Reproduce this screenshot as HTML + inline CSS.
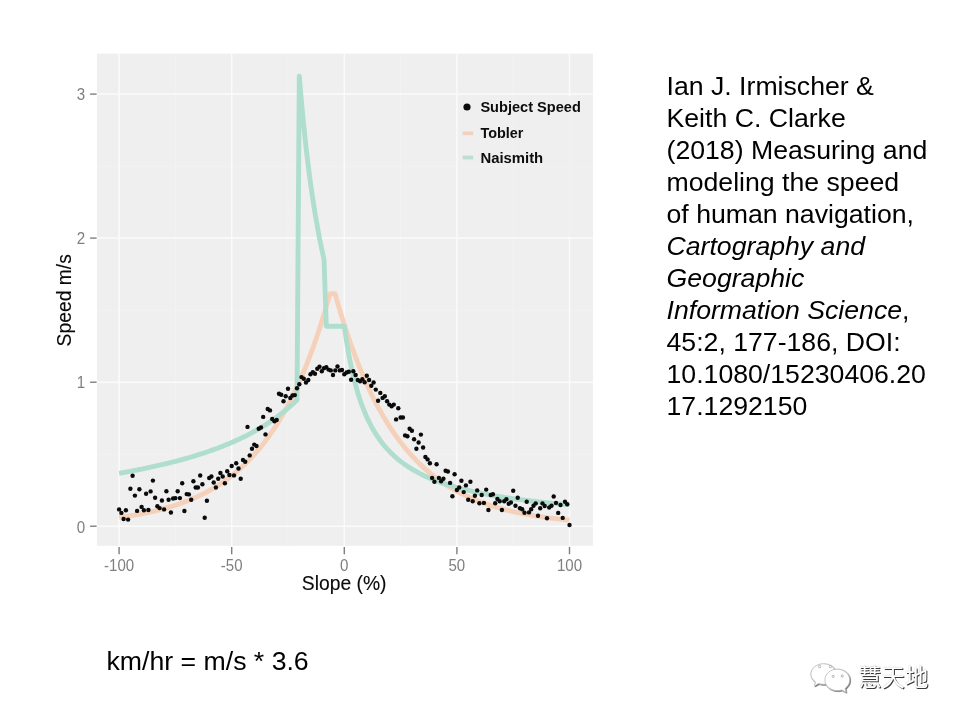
<!DOCTYPE html>
<html lang="en">
<head>
<meta charset="utf-8">
<title>Speed vs slope</title>
<style>
html,body{margin:0;padding:0;background:#fff;}
body{width:960px;height:720px;position:relative;overflow:hidden;font-family:"Liberation Sans",sans-serif;color:#000;}
svg.chart{position:absolute;left:0;top:0;}
svg text{font-family:"Liberation Sans",sans-serif;}
.atitle{fill:#0a0a0a;stroke:#0a0a0a;stroke-width:0.12px;}
.cite{position:absolute;left:666.5px;top:69.6px;width:290px;font-size:26.67px;line-height:32px;white-space:nowrap;}
.cite i{font-style:italic;}
.conv{position:absolute;left:106.5px;top:644.6px;font-size:26.67px;line-height:32px;white-space:nowrap;}
.wm{position:absolute;left:800px;top:650px;}
.wmtext{position:absolute;left:858.3px;top:660.6px;font-family:"Liberation Sans","Noto Sans CJK SC",sans-serif;font-size:23.3px;line-height:34px;color:#fff;text-shadow:1px 1px 0.6px #3a3a3a,0 0 1px #aaa;white-space:nowrap;}
</style>
</head>
<body>
<svg class="chart" width="960" height="720" viewBox="0 0 960 720">
<rect x="96.9" y="53.6" width="496.0" height="492.2" fill="#efefef"/>
<g stroke="#f2f2f2" stroke-width="1">
<line x1="96.9" x2="592.9" y1="454.2" y2="454.2"/>
<line x1="96.9" x2="592.9" y1="310.2" y2="310.2"/>
<line x1="96.9" x2="592.9" y1="166.1" y2="166.1"/>
<line y1="53.6" y2="545.8" x1="175.4" x2="175.4"/>
<line y1="53.6" y2="545.8" x1="288.0" x2="288.0"/>
<line y1="53.6" y2="545.8" x1="400.6" x2="400.6"/>
<line y1="53.6" y2="545.8" x1="513.2" x2="513.2"/>
</g>
<g stroke="#fbfbfb" stroke-width="1.5">
<line x1="96.9" x2="592.9" y1="526.2" y2="526.2"/>
<line x1="96.9" x2="592.9" y1="382.2" y2="382.2"/>
<line x1="96.9" x2="592.9" y1="238.1" y2="238.1"/>
<line x1="96.9" x2="592.9" y1="94.1" y2="94.1"/>
<line y1="53.6" y2="545.8" x1="119.1" x2="119.1"/>
<line y1="53.6" y2="545.8" x1="231.7" x2="231.7"/>
<line y1="53.6" y2="545.8" x1="344.3" x2="344.3"/>
<line y1="53.6" y2="545.8" x1="456.9" x2="456.9"/>
<line y1="53.6" y2="545.8" x1="569.5" x2="569.5"/>
</g>
<g stroke="#7f7f7f" stroke-width="1.4">
<line x1="90.1" x2="96.6" y1="526.2" y2="526.2"/>
<line x1="90.1" x2="96.6" y1="382.2" y2="382.2"/>
<line x1="90.1" x2="96.6" y1="238.1" y2="238.1"/>
<line x1="90.1" x2="96.6" y1="94.1" y2="94.1"/>
<line y1="547.0" y2="554.2" x1="119.1" x2="119.1"/>
<line y1="547.0" y2="554.2" x1="231.7" x2="231.7"/>
<line y1="547.0" y2="554.2" x1="344.3" x2="344.3"/>
<line y1="547.0" y2="554.2" x1="456.9" x2="456.9"/>
<line y1="547.0" y2="554.2" x1="569.5" x2="569.5"/>
</g>
<g class="tick" fill="#7f7f7f" font-size="16.0">
<text x="76.7" y="532.5" textLength="8.4" lengthAdjust="spacingAndGlyphs">0</text>
<text x="76.7" y="388.4" textLength="8.4" lengthAdjust="spacingAndGlyphs">1</text>
<text x="76.7" y="244.3" textLength="8.4" lengthAdjust="spacingAndGlyphs">2</text>
<text x="76.7" y="100.3" textLength="8.4" lengthAdjust="spacingAndGlyphs">3</text>
<text x="104.1" y="571.2" textLength="30.1" lengthAdjust="spacingAndGlyphs">-100</text>
<text x="220.8" y="571.2" textLength="21.7" lengthAdjust="spacingAndGlyphs">-50</text>
<text x="340.1" y="571.2" textLength="8.4" lengthAdjust="spacingAndGlyphs">0</text>
<text x="448.5" y="571.2" textLength="16.7" lengthAdjust="spacingAndGlyphs">50</text>
<text x="557.0" y="571.2" textLength="25.1" lengthAdjust="spacingAndGlyphs">100</text>
</g>
<path d="M119.1,517.5 L119.7,517.4 L120.2,517.3 L120.8,517.2 L121.4,517.2 L121.9,517.1 L122.5,517.0 L123.0,516.9 L123.6,516.8 L124.2,516.8 L124.7,516.7 L125.3,516.6 L125.9,516.5 L126.4,516.4 L127.0,516.3 L127.5,516.2 L128.1,516.2 L128.7,516.1 L129.2,516.0 L129.8,515.9 L130.4,515.8 L130.9,515.7 L131.5,515.6 L132.0,515.5 L132.6,515.4 L133.2,515.3 L133.7,515.2 L134.3,515.1 L134.9,515.0 L135.4,514.9 L136.0,514.8 L136.6,514.7 L137.1,514.6 L137.7,514.5 L138.2,514.4 L138.8,514.3 L139.4,514.2 L139.9,514.1 L140.5,514.0 L141.1,513.9 L141.6,513.8 L142.2,513.7 L142.7,513.6 L143.3,513.5 L143.9,513.4 L144.4,513.2 L145.0,513.1 L145.6,513.0 L146.1,512.9 L146.7,512.8 L147.3,512.7 L147.8,512.5 L148.4,512.4 L148.9,512.3 L149.5,512.2 L150.1,512.1 L150.6,511.9 L151.2,511.8 L151.8,511.7 L152.3,511.5 L152.9,511.4 L153.4,511.3 L154.0,511.2 L154.6,511.0 L155.1,510.9 L155.7,510.8 L156.3,510.6 L156.8,510.5 L157.4,510.3 L157.9,510.2 L158.5,510.1 L159.1,509.9 L159.6,509.8 L160.2,509.6 L160.8,509.5 L161.3,509.3 L161.9,509.2 L162.5,509.0 L163.0,508.9 L163.6,508.7 L164.1,508.6 L164.7,508.4 L165.3,508.3 L165.8,508.1 L166.4,508.0 L167.0,507.8 L167.5,507.6 L168.1,507.5 L168.6,507.3 L169.2,507.1 L169.8,507.0 L170.3,506.8 L170.9,506.6 L171.5,506.5 L172.0,506.3 L172.6,506.1 L173.1,505.9 L173.7,505.7 L174.3,505.6 L174.8,505.4 L175.4,505.2 L176.0,505.0 L176.5,504.8 L177.1,504.6 L177.7,504.5 L178.2,504.3 L178.8,504.1 L179.3,503.9 L179.9,503.7 L180.5,503.5 L181.0,503.3 L181.6,503.1 L182.2,502.9 L182.7,502.7 L183.3,502.5 L183.8,502.3 L184.4,502.0 L185.0,501.8 L185.5,501.6 L186.1,501.4 L186.7,501.2 L187.2,501.0 L187.8,500.7 L188.3,500.5 L188.9,500.3 L189.5,500.1 L190.0,499.8 L190.6,499.6 L191.2,499.4 L191.7,499.1 L192.3,498.9 L192.9,498.6 L193.4,498.4 L194.0,498.2 L194.5,497.9 L195.1,497.7 L195.7,497.4 L196.2,497.2 L196.8,496.9 L197.4,496.6 L197.9,496.4 L198.5,496.1 L199.0,495.9 L199.6,495.6 L200.2,495.3 L200.7,495.0 L201.3,494.8 L201.9,494.5 L202.4,494.2 L203.0,493.9 L203.6,493.7 L204.1,493.4 L204.7,493.1 L205.2,492.8 L205.8,492.5 L206.4,492.2 L206.9,491.9 L207.5,491.6 L208.1,491.3 L208.6,491.0 L209.2,490.7 L209.7,490.4 L210.3,490.0 L210.9,489.7 L211.4,489.4 L212.0,489.1 L212.6,488.8 L213.1,488.4 L213.7,488.1 L214.2,487.8 L214.8,487.4 L215.4,487.1 L215.9,486.7 L216.5,486.4 L217.1,486.0 L217.6,485.7 L218.2,485.3 L218.8,485.0 L219.3,484.6 L219.9,484.2 L220.4,483.9 L221.0,483.5 L221.6,483.1 L222.1,482.7 L222.7,482.4 L223.3,482.0 L223.8,481.6 L224.4,481.2 L224.9,480.8 L225.5,480.4 L226.1,480.0 L226.6,479.6 L227.2,479.2 L227.8,478.8 L228.3,478.3 L228.9,477.9 L229.4,477.5 L230.0,477.1 L230.6,476.6 L231.1,476.2 L231.7,475.8 L232.3,475.3 L232.8,474.9 L233.4,474.4 L234.0,474.0 L234.5,473.5 L235.1,473.0 L235.6,472.6 L236.2,472.1 L236.8,471.6 L237.3,471.1 L237.9,470.7 L238.5,470.2 L239.0,469.7 L239.6,469.2 L240.1,468.7 L240.7,468.2 L241.3,467.7 L241.8,467.1 L242.4,466.6 L243.0,466.1 L243.5,465.6 L244.1,465.0 L244.6,464.5 L245.2,464.0 L245.8,463.4 L246.3,462.9 L246.9,462.3 L247.5,461.7 L248.0,461.2 L248.6,460.6 L249.2,460.0 L249.7,459.4 L250.3,458.9 L250.8,458.3 L251.4,457.7 L252.0,457.1 L252.5,456.5 L253.1,455.8 L253.7,455.2 L254.2,454.6 L254.8,454.0 L255.3,453.3 L255.9,452.7 L256.5,452.1 L257.0,451.4 L257.6,450.7 L258.2,450.1 L258.7,449.4 L259.3,448.7 L259.9,448.1 L260.4,447.4 L261.0,446.7 L261.5,446.0 L262.1,445.3 L262.7,444.6 L263.2,443.8 L263.8,443.1 L264.4,442.4 L264.9,441.6 L265.5,440.9 L266.0,440.2 L266.6,439.4 L267.2,438.6 L267.7,437.9 L268.3,437.1 L268.9,436.3 L269.4,435.5 L270.0,434.7 L270.5,433.9 L271.1,433.1 L271.7,432.3 L272.2,431.5 L272.8,430.6 L273.4,429.8 L273.9,428.9 L274.5,428.1 L275.1,427.2 L275.6,426.3 L276.2,425.5 L276.7,424.6 L277.3,423.7 L277.9,422.8 L278.4,421.9 L279.0,421.0 L279.6,420.0 L280.1,419.1 L280.7,418.2 L281.2,417.2 L281.8,416.2 L282.4,415.3 L282.9,414.3 L283.5,413.3 L284.1,412.3 L284.6,411.3 L285.2,410.3 L285.7,409.3 L286.3,408.3 L286.9,407.2 L287.4,406.2 L288.0,405.1 L288.6,404.1 L289.1,403.0 L289.7,401.9 L290.3,400.8 L290.8,399.7 L291.4,398.6 L291.9,397.5 L292.5,396.4 L293.1,395.2 L293.6,394.1 L294.2,392.9 L294.8,391.7 L295.3,390.5 L295.9,389.4 L296.4,388.1 L297.0,386.9 L297.6,385.7 L298.1,384.5 L298.7,383.2 L299.3,382.0 L299.8,380.7 L300.4,379.4 L300.9,378.1 L301.5,376.8 L302.1,375.5 L302.6,374.2 L303.2,372.9 L303.8,371.5 L304.3,370.2 L304.9,368.8 L305.5,367.4 L306.0,366.0 L306.6,364.6 L307.1,363.2 L307.7,361.7 L308.3,360.3 L308.8,358.8 L309.4,357.4 L310.0,355.9 L310.5,354.4 L311.1,352.9 L311.6,351.3 L312.2,349.8 L312.8,348.3 L313.3,346.7 L313.9,345.1 L314.5,343.5 L315.0,341.9 L315.6,340.3 L316.2,338.7 L316.7,337.0 L317.3,335.4 L317.8,333.7 L318.4,332.0 L319.0,330.3 L319.5,328.6 L320.1,326.8 L320.7,325.1 L321.2,323.3 L321.8,321.5 L322.3,319.7 L322.9,317.9 L323.5,316.1 L324.0,314.2 L324.6,312.4 L325.2,310.5 L325.7,308.6 L326.3,306.7 L326.8,304.7 L327.4,302.8 L328.0,300.8 L328.5,298.8 L329.1,296.8 L329.7,294.8 L330.2,293.6 L330.8,293.6 L331.4,293.6 L331.9,293.6 L332.5,293.6 L333.0,293.6 L333.6,293.6 L334.2,293.6 L334.7,293.6 L335.3,294.4 L335.9,296.4 L336.4,298.4 L337.0,300.4 L337.5,302.4 L338.1,304.3 L338.7,306.3 L339.2,308.2 L339.8,310.1 L340.4,312.0 L340.9,313.8 L341.5,315.7 L342.0,317.5 L342.6,319.3 L343.2,321.2 L343.7,322.9 L344.3,324.7 L344.9,326.5 L345.4,328.2 L346.0,329.9 L346.6,331.6 L347.1,333.3 L347.7,335.0 L348.2,336.7 L348.8,338.3 L349.4,340.0 L349.9,341.6 L350.5,343.2 L351.1,344.8 L351.6,346.4 L352.2,347.9 L352.7,349.5 L353.3,351.0 L353.9,352.6 L354.4,354.1 L355.0,355.6 L355.6,357.1 L356.1,358.5 L356.7,360.0 L357.2,361.4 L357.8,362.9 L358.4,364.3 L358.9,365.7 L359.5,367.1 L360.1,368.5 L360.6,369.9 L361.2,371.2 L361.8,372.6 L362.3,373.9 L362.9,375.3 L363.4,376.6 L364.0,377.9 L364.6,379.2 L365.1,380.4 L365.7,381.7 L366.3,383.0 L366.8,384.2 L367.4,385.5 L367.9,386.7 L368.5,387.9 L369.1,389.1 L369.6,390.3 L370.2,391.5 L370.8,392.7 L371.3,393.8 L371.9,395.0 L372.4,396.1 L373.0,397.3 L373.6,398.4 L374.1,399.5 L374.7,400.6 L375.3,401.7 L375.8,402.8 L376.4,403.9 L377.0,404.9 L377.5,406.0 L378.1,407.0 L378.6,408.1 L379.2,409.1 L379.8,410.1 L380.3,411.1 L380.9,412.1 L381.5,413.1 L382.0,414.1 L382.6,415.1 L383.1,416.1 L383.7,417.0 L384.3,418.0 L384.8,418.9 L385.4,419.8 L386.0,420.8 L386.5,421.7 L387.1,422.6 L387.7,423.5 L388.2,424.4 L388.8,425.3 L389.3,426.2 L389.9,427.0 L390.5,427.9 L391.0,428.8 L391.6,429.6 L392.2,430.5 L392.7,431.3 L393.3,432.1 L393.8,432.9 L394.4,433.7 L395.0,434.6 L395.5,435.4 L396.1,436.1 L396.7,436.9 L397.2,437.7 L397.8,438.5 L398.3,439.2 L398.9,440.0 L399.5,440.8 L400.0,441.5 L400.6,442.2 L401.2,443.0 L401.7,443.7 L402.3,444.4 L402.9,445.1 L403.4,445.8 L404.0,446.5 L404.5,447.2 L405.1,447.9 L405.7,448.6 L406.2,449.3 L406.8,449.9 L407.4,450.6 L407.9,451.3 L408.5,451.9 L409.0,452.6 L409.6,453.2 L410.2,453.8 L410.7,454.5 L411.3,455.1 L411.9,455.7 L412.4,456.3 L413.0,456.9 L413.5,457.6 L414.1,458.1 L414.7,458.7 L415.2,459.3 L415.8,459.9 L416.4,460.5 L416.9,461.1 L417.5,461.6 L418.1,462.2 L418.6,462.8 L419.2,463.3 L419.7,463.9 L420.3,464.4 L420.9,464.9 L421.4,465.5 L422.0,466.0 L422.6,466.5 L423.1,467.0 L423.7,467.6 L424.2,468.1 L424.8,468.6 L425.4,469.1 L425.9,469.6 L426.5,470.1 L427.1,470.6 L427.6,471.0 L428.2,471.5 L428.8,472.0 L429.3,472.5 L429.9,472.9 L430.4,473.4 L431.0,473.9 L431.6,474.3 L432.1,474.8 L432.7,475.2 L433.3,475.7 L433.8,476.1 L434.4,476.6 L434.9,477.0 L435.5,477.4 L436.1,477.8 L436.6,478.3 L437.2,478.7 L437.8,479.1 L438.3,479.5 L438.9,479.9 L439.4,480.3 L440.0,480.7 L440.6,481.1 L441.1,481.5 L441.7,481.9 L442.3,482.3 L442.8,482.7 L443.4,483.0 L444.0,483.4 L444.5,483.8 L445.1,484.2 L445.6,484.5 L446.2,484.9 L446.8,485.3 L447.3,485.6 L447.9,486.0 L448.5,486.3 L449.0,486.7 L449.6,487.0 L450.1,487.4 L450.7,487.7 L451.3,488.0 L451.8,488.4 L452.4,488.7 L453.0,489.0 L453.5,489.3 L454.1,489.7 L454.6,490.0 L455.2,490.3 L455.8,490.6 L456.3,490.9 L456.9,491.2 L457.5,491.5 L458.0,491.8 L458.6,492.1 L459.2,492.4 L459.7,492.7 L460.3,493.0 L460.8,493.3 L461.4,493.6 L462.0,493.9 L462.5,494.2 L463.1,494.4 L463.7,494.7 L464.2,495.0 L464.8,495.3 L465.3,495.5 L465.9,495.8 L466.5,496.1 L467.0,496.3 L467.6,496.6 L468.2,496.9 L468.7,497.1 L469.3,497.4 L469.8,497.6 L470.4,497.9 L471.0,498.1 L471.5,498.4 L472.1,498.6 L472.7,498.8 L473.2,499.1 L473.8,499.3 L474.4,499.5 L474.9,499.8 L475.5,500.0 L476.0,500.2 L476.6,500.5 L477.2,500.7 L477.7,500.9 L478.3,501.1 L478.9,501.4 L479.4,501.6 L480.0,501.8 L480.5,502.0 L481.1,502.2 L481.7,502.4 L482.2,502.6 L482.8,502.8 L483.4,503.0 L483.9,503.2 L484.5,503.4 L485.1,503.6 L485.6,503.8 L486.2,504.0 L486.7,504.2 L487.3,504.4 L487.9,504.6 L488.4,504.8 L489.0,505.0 L489.6,505.2 L490.1,505.4 L490.7,505.5 L491.2,505.7 L491.8,505.9 L492.4,506.1 L492.9,506.2 L493.5,506.4 L494.1,506.6 L494.6,506.8 L495.2,506.9 L495.7,507.1 L496.3,507.3 L496.9,507.4 L497.4,507.6 L498.0,507.8 L498.6,507.9 L499.1,508.1 L499.7,508.2 L500.3,508.4 L500.8,508.6 L501.4,508.7 L501.9,508.9 L502.5,509.0 L503.1,509.2 L503.6,509.3 L504.2,509.5 L504.8,509.6 L505.3,509.7 L505.9,509.9 L506.4,510.0 L507.0,510.2 L507.6,510.3 L508.1,510.5 L508.7,510.6 L509.3,510.7 L509.8,510.9 L510.4,511.0 L510.9,511.1 L511.5,511.3 L512.1,511.4 L512.6,511.5 L513.2,511.7 L513.8,511.8 L514.3,511.9 L514.9,512.0 L515.5,512.2 L516.0,512.3 L516.6,512.4 L517.1,512.5 L517.7,512.6 L518.3,512.8 L518.8,512.9 L519.4,513.0 L520.0,513.1 L520.5,513.2 L521.1,513.3 L521.6,513.4 L522.2,513.6 L522.8,513.7 L523.3,513.8 L523.9,513.9 L524.5,514.0 L525.0,514.1 L525.6,514.2 L526.1,514.3 L526.7,514.4 L527.3,514.5 L527.8,514.6 L528.4,514.7 L529.0,514.8 L529.5,514.9 L530.1,515.0 L530.7,515.1 L531.2,515.2 L531.8,515.3 L532.3,515.4 L532.9,515.5 L533.5,515.6 L534.0,515.7 L534.6,515.8 L535.2,515.9 L535.7,516.0 L536.3,516.1 L536.8,516.1 L537.4,516.2 L538.0,516.3 L538.5,516.4 L539.1,516.5 L539.7,516.6 L540.2,516.7 L540.8,516.7 L541.4,516.8 L541.9,516.9 L542.5,517.0 L543.0,517.1 L543.6,517.1 L544.2,517.2 L544.7,517.3 L545.3,517.4 L545.9,517.5 L546.4,517.5 L547.0,517.6 L547.5,517.7 L548.1,517.8 L548.7,517.8 L549.2,517.9 L549.8,518.0 L550.4,518.1 L550.9,518.1 L551.5,518.2 L552.0,518.3 L552.6,518.3 L553.2,518.4 L553.7,518.5 L554.3,518.5 L554.9,518.6 L555.4,518.7 L556.0,518.7 L556.6,518.8 L557.1,518.9 L557.7,518.9 L558.2,519.0 L558.8,519.1 L559.4,519.1 L559.9,519.2 L560.5,519.2 L561.1,519.3 L561.6,519.4 L562.2,519.4 L562.7,519.5 L563.3,519.5 L563.9,519.6 L564.4,519.7 L565.0,519.7 L565.6,519.8 L566.1,519.8 L566.7,519.9 L567.2,519.9 L567.8,520.0 L568.4,520.1 L568.9,520.1 L569.5,520.2" fill="none" stroke="#f6d1ba" stroke-width="4.9" stroke-linejoin="round" stroke-linecap="butt"/>
<path d="M119.1,473.3 L121.4,472.9 L123.6,472.5 L125.9,472.1 L128.1,471.7 L130.4,471.3 L132.6,470.8 L134.9,470.4 L137.1,470.0 L139.4,469.5 L141.6,469.1 L143.9,468.6 L146.1,468.2 L148.4,467.7 L150.6,467.2 L152.9,466.7 L155.1,466.2 L157.4,465.7 L159.6,465.2 L161.9,464.7 L164.1,464.2 L166.4,463.6 L168.6,463.1 L170.9,462.5 L173.1,461.9 L175.4,461.4 L177.7,460.8 L179.9,460.2 L182.2,459.6 L184.4,458.9 L186.7,458.3 L188.9,457.7 L191.2,457.0 L193.4,456.3 L195.7,455.6 L197.9,454.9 L200.2,454.2 L202.4,453.5 L204.7,452.8 L206.9,452.0 L209.2,451.2 L211.4,450.4 L213.7,449.6 L215.9,448.8 L218.2,448.0 L220.4,447.1 L222.7,446.2 L224.9,445.3 L227.2,444.4 L229.4,443.5 L231.7,442.5 L234.0,441.5 L236.2,440.5 L238.5,439.5 L240.7,438.4 L243.0,437.3 L245.2,436.2 L247.5,435.1 L249.7,433.9 L252.0,432.7 L254.2,431.5 L256.5,430.2 L258.7,428.9 L261.0,427.6 L263.2,426.2 L265.5,424.8 L267.7,423.4 L270.0,421.9 L272.2,420.3 L274.5,418.8 L276.7,417.1 L279.0,415.4 L281.2,413.7 L283.5,411.9 L285.7,410.1 L288.0,408.2 L290.3,406.2 L292.5,404.2 L294.8,402.1 L297.0,399.9 L299.3,76.1 L301.5,102.6 L303.8,126.1 L306.0,147.2 L308.3,166.1 L310.5,183.3 L312.8,198.9 L315.0,213.1 L317.3,226.1 L319.5,238.2 L321.8,249.2 L324.0,259.5 L326.3,326.2 L328.5,326.2 L330.8,326.2 L333.0,326.2 L335.3,326.2 L337.5,326.2 L339.8,326.2 L342.0,326.2 L344.3,326.2 L346.6,341.6 L348.8,354.8 L351.1,366.2 L353.3,376.2 L355.6,385.0 L357.8,392.9 L360.1,399.9 L362.3,406.2 L364.6,411.9 L366.8,417.1 L369.1,421.9 L371.3,426.2 L373.6,430.2 L375.8,433.9 L378.1,437.3 L380.3,440.5 L382.6,443.5 L384.8,446.2 L387.1,448.8 L389.3,451.2 L391.6,453.5 L393.8,455.6 L396.1,457.7 L398.3,459.6 L400.6,461.4 L402.9,463.1 L405.1,464.7 L407.4,466.2 L409.6,467.7 L411.9,469.1 L414.1,470.4 L416.4,471.7 L418.6,472.9 L420.9,474.1 L423.1,475.2 L425.4,476.2 L427.6,477.3 L429.9,478.2 L432.1,479.2 L434.4,480.1 L436.6,481.0 L438.9,481.8 L441.1,482.6 L443.4,483.4 L445.6,484.1 L447.9,484.9 L450.1,485.6 L452.4,486.2 L454.6,486.9 L456.9,487.5 L459.2,488.1 L461.4,488.7 L463.7,489.3 L465.9,489.9 L468.2,490.4 L470.4,490.9 L472.7,491.5 L474.9,492.0 L477.2,492.4 L479.4,492.9 L481.7,493.4 L483.9,493.8 L486.2,494.2 L488.4,494.7 L490.7,495.1 L492.9,495.5 L495.2,495.9 L497.4,496.2 L499.7,496.6 L501.9,497.0 L504.2,497.3 L506.4,497.7 L508.7,498.0 L510.9,498.3 L513.2,498.7 L515.5,499.0 L517.7,499.3 L520.0,499.6 L522.2,499.9 L524.5,500.2 L526.7,500.4 L529.0,500.7 L531.2,501.0 L533.5,501.2 L535.7,501.5 L538.0,501.8 L540.2,502.0 L542.5,502.2 L544.7,502.5 L547.0,502.7 L549.2,502.9 L551.5,503.2 L553.7,503.4 L556.0,503.6 L558.2,503.8 L560.5,504.0 L562.7,504.2 L565.0,504.4 L567.2,504.6 L569.5,504.8" fill="none" stroke="#b0dece" stroke-width="4.9" stroke-linejoin="round" stroke-linecap="butt"/>
<g fill="#0a0a0a">
<circle cx="119.1" cy="509.4" r="2.2"/>
<circle cx="121.4" cy="512.9" r="2.2"/>
<circle cx="123.6" cy="519.0" r="2.2"/>
<circle cx="125.9" cy="510.2" r="2.2"/>
<circle cx="128.1" cy="519.6" r="2.2"/>
<circle cx="130.4" cy="488.8" r="2.2"/>
<circle cx="132.6" cy="475.8" r="2.2"/>
<circle cx="134.9" cy="495.6" r="2.2"/>
<circle cx="137.1" cy="510.9" r="2.2"/>
<circle cx="139.4" cy="489.2" r="2.2"/>
<circle cx="141.6" cy="506.9" r="2.2"/>
<circle cx="143.9" cy="510.2" r="2.2"/>
<circle cx="146.1" cy="493.8" r="2.2"/>
<circle cx="148.4" cy="510.0" r="2.2"/>
<circle cx="150.6" cy="491.4" r="2.2"/>
<circle cx="152.9" cy="480.6" r="2.2"/>
<circle cx="155.1" cy="497.8" r="2.2"/>
<circle cx="157.4" cy="506.2" r="2.2"/>
<circle cx="159.6" cy="508.1" r="2.2"/>
<circle cx="161.9" cy="500.5" r="2.2"/>
<circle cx="164.1" cy="509.4" r="2.2"/>
<circle cx="166.4" cy="491.2" r="2.2"/>
<circle cx="168.6" cy="499.8" r="2.2"/>
<circle cx="170.9" cy="512.5" r="2.2"/>
<circle cx="173.1" cy="498.5" r="2.2"/>
<circle cx="175.4" cy="498.1" r="2.2"/>
<circle cx="177.7" cy="491.2" r="2.2"/>
<circle cx="179.9" cy="498.1" r="2.2"/>
<circle cx="182.2" cy="483.2" r="2.2"/>
<circle cx="184.4" cy="511.0" r="2.2"/>
<circle cx="186.7" cy="494.1" r="2.2"/>
<circle cx="188.9" cy="494.4" r="2.2"/>
<circle cx="191.2" cy="499.8" r="2.2"/>
<circle cx="193.4" cy="481.2" r="2.2"/>
<circle cx="195.7" cy="487.5" r="2.2"/>
<circle cx="197.9" cy="487.5" r="2.2"/>
<circle cx="200.2" cy="475.5" r="2.2"/>
<circle cx="202.4" cy="484.2" r="2.2"/>
<circle cx="204.7" cy="517.8" r="2.2"/>
<circle cx="206.9" cy="500.8" r="2.2"/>
<circle cx="209.2" cy="478.0" r="2.2"/>
<circle cx="211.4" cy="476.5" r="2.2"/>
<circle cx="213.7" cy="482.5" r="2.2"/>
<circle cx="215.9" cy="487.5" r="2.2"/>
<circle cx="218.2" cy="478.8" r="2.2"/>
<circle cx="220.4" cy="473.0" r="2.2"/>
<circle cx="222.7" cy="476.5" r="2.2"/>
<circle cx="224.9" cy="483.2" r="2.2"/>
<circle cx="227.2" cy="471.2" r="2.2"/>
<circle cx="229.4" cy="475.0" r="2.2"/>
<circle cx="231.7" cy="466.0" r="2.2"/>
<circle cx="234.0" cy="475.4" r="2.2"/>
<circle cx="236.2" cy="463.2" r="2.2"/>
<circle cx="238.5" cy="468.5" r="2.2"/>
<circle cx="240.7" cy="478.8" r="2.2"/>
<circle cx="243.0" cy="460.0" r="2.2"/>
<circle cx="245.2" cy="461.8" r="2.2"/>
<circle cx="247.5" cy="426.9" r="2.2"/>
<circle cx="249.7" cy="455.4" r="2.2"/>
<circle cx="252.0" cy="448.8" r="2.2"/>
<circle cx="254.2" cy="444.6" r="2.2"/>
<circle cx="256.5" cy="446.0" r="2.2"/>
<circle cx="258.7" cy="428.8" r="2.2"/>
<circle cx="261.0" cy="427.5" r="2.2"/>
<circle cx="263.2" cy="416.9" r="2.2"/>
<circle cx="265.5" cy="434.4" r="2.2"/>
<circle cx="267.7" cy="409.0" r="2.2"/>
<circle cx="270.0" cy="410.4" r="2.2"/>
<circle cx="272.2" cy="419.0" r="2.2"/>
<circle cx="274.5" cy="421.2" r="2.2"/>
<circle cx="276.7" cy="420.0" r="2.2"/>
<circle cx="279.0" cy="393.8" r="2.2"/>
<circle cx="281.2" cy="394.8" r="2.2"/>
<circle cx="283.5" cy="401.2" r="2.2"/>
<circle cx="285.7" cy="396.2" r="2.2"/>
<circle cx="288.0" cy="388.8" r="2.2"/>
<circle cx="290.3" cy="398.0" r="2.2"/>
<circle cx="292.5" cy="395.5" r="2.2"/>
<circle cx="294.8" cy="395.1" r="2.2"/>
<circle cx="297.0" cy="388.2" r="2.2"/>
<circle cx="299.3" cy="384.3" r="2.2"/>
<circle cx="301.5" cy="377.1" r="2.2"/>
<circle cx="303.8" cy="378.8" r="2.2"/>
<circle cx="306.0" cy="382.5" r="2.2"/>
<circle cx="308.3" cy="380.0" r="2.2"/>
<circle cx="310.5" cy="374.2" r="2.2"/>
<circle cx="312.8" cy="372.1" r="2.2"/>
<circle cx="315.0" cy="373.8" r="2.2"/>
<circle cx="317.3" cy="368.8" r="2.2"/>
<circle cx="319.5" cy="366.7" r="2.2"/>
<circle cx="321.8" cy="371.2" r="2.2"/>
<circle cx="324.0" cy="368.3" r="2.2"/>
<circle cx="326.3" cy="367.1" r="2.2"/>
<circle cx="328.5" cy="369.6" r="2.2"/>
<circle cx="330.8" cy="370.4" r="2.2"/>
<circle cx="333.0" cy="375.0" r="2.2"/>
<circle cx="335.3" cy="370.4" r="2.2"/>
<circle cx="337.5" cy="366.5" r="2.2"/>
<circle cx="339.8" cy="370.4" r="2.2"/>
<circle cx="342.0" cy="370.0" r="2.2"/>
<circle cx="344.3" cy="374.2" r="2.2"/>
<circle cx="346.6" cy="372.5" r="2.2"/>
<circle cx="348.8" cy="371.8" r="2.2"/>
<circle cx="351.1" cy="379.8" r="2.2"/>
<circle cx="353.3" cy="371.2" r="2.2"/>
<circle cx="355.6" cy="375.0" r="2.2"/>
<circle cx="357.8" cy="380.0" r="2.2"/>
<circle cx="360.1" cy="381.2" r="2.2"/>
<circle cx="362.3" cy="379.2" r="2.2"/>
<circle cx="364.6" cy="382.2" r="2.2"/>
<circle cx="366.8" cy="375.8" r="2.2"/>
<circle cx="369.1" cy="380.0" r="2.2"/>
<circle cx="371.3" cy="385.8" r="2.2"/>
<circle cx="373.6" cy="382.5" r="2.2"/>
<circle cx="375.8" cy="389.6" r="2.2"/>
<circle cx="378.1" cy="400.8" r="2.2"/>
<circle cx="380.3" cy="392.9" r="2.2"/>
<circle cx="382.6" cy="397.9" r="2.2"/>
<circle cx="384.8" cy="396.2" r="2.2"/>
<circle cx="387.1" cy="401.2" r="2.2"/>
<circle cx="389.3" cy="404.6" r="2.2"/>
<circle cx="391.6" cy="406.2" r="2.2"/>
<circle cx="393.8" cy="404.6" r="2.2"/>
<circle cx="396.1" cy="419.4" r="2.2"/>
<circle cx="398.3" cy="408.3" r="2.2"/>
<circle cx="400.6" cy="417.5" r="2.2"/>
<circle cx="402.9" cy="417.5" r="2.2"/>
<circle cx="405.1" cy="435.4" r="2.2"/>
<circle cx="407.4" cy="436.2" r="2.2"/>
<circle cx="409.6" cy="428.8" r="2.2"/>
<circle cx="411.9" cy="430.8" r="2.2"/>
<circle cx="414.1" cy="439.2" r="2.2"/>
<circle cx="416.4" cy="448.8" r="2.2"/>
<circle cx="418.6" cy="442.5" r="2.2"/>
<circle cx="420.9" cy="434.6" r="2.2"/>
<circle cx="423.1" cy="447.5" r="2.2"/>
<circle cx="425.4" cy="457.0" r="2.2"/>
<circle cx="427.6" cy="459.4" r="2.2"/>
<circle cx="429.9" cy="463.3" r="2.2"/>
<circle cx="432.1" cy="477.9" r="2.2"/>
<circle cx="434.4" cy="481.7" r="2.2"/>
<circle cx="436.6" cy="464.2" r="2.2"/>
<circle cx="438.9" cy="477.9" r="2.2"/>
<circle cx="441.1" cy="481.2" r="2.2"/>
<circle cx="443.4" cy="478.8" r="2.2"/>
<circle cx="445.6" cy="470.8" r="2.2"/>
<circle cx="447.9" cy="471.5" r="2.2"/>
<circle cx="450.1" cy="482.9" r="2.2"/>
<circle cx="452.4" cy="496.2" r="2.2"/>
<circle cx="454.6" cy="474.3" r="2.2"/>
<circle cx="456.9" cy="490.0" r="2.2"/>
<circle cx="459.2" cy="487.5" r="2.2"/>
<circle cx="461.4" cy="480.7" r="2.2"/>
<circle cx="463.7" cy="492.1" r="2.2"/>
<circle cx="465.9" cy="485.4" r="2.2"/>
<circle cx="468.2" cy="499.8" r="2.2"/>
<circle cx="470.4" cy="481.8" r="2.2"/>
<circle cx="472.7" cy="501.2" r="2.2"/>
<circle cx="474.9" cy="495.8" r="2.2"/>
<circle cx="477.2" cy="490.4" r="2.2"/>
<circle cx="479.4" cy="503.2" r="2.2"/>
<circle cx="481.7" cy="495.0" r="2.2"/>
<circle cx="483.9" cy="502.9" r="2.2"/>
<circle cx="486.2" cy="489.6" r="2.2"/>
<circle cx="488.4" cy="510.0" r="2.2"/>
<circle cx="490.7" cy="495.0" r="2.2"/>
<circle cx="492.9" cy="494.2" r="2.2"/>
<circle cx="495.2" cy="503.3" r="2.2"/>
<circle cx="497.4" cy="499.0" r="2.2"/>
<circle cx="499.7" cy="501.2" r="2.2"/>
<circle cx="501.9" cy="510.0" r="2.2"/>
<circle cx="504.2" cy="501.2" r="2.2"/>
<circle cx="506.4" cy="499.2" r="2.2"/>
<circle cx="508.7" cy="503.8" r="2.2"/>
<circle cx="510.9" cy="502.5" r="2.2"/>
<circle cx="513.2" cy="490.8" r="2.2"/>
<circle cx="515.5" cy="505.7" r="2.2"/>
<circle cx="517.7" cy="497.7" r="2.2"/>
<circle cx="520.0" cy="508.3" r="2.2"/>
<circle cx="522.2" cy="509.2" r="2.2"/>
<circle cx="524.5" cy="512.8" r="2.2"/>
<circle cx="526.7" cy="501.8" r="2.2"/>
<circle cx="529.0" cy="512.4" r="2.2"/>
<circle cx="531.2" cy="509.2" r="2.2"/>
<circle cx="533.5" cy="505.8" r="2.2"/>
<circle cx="535.7" cy="503.4" r="2.2"/>
<circle cx="538.0" cy="515.8" r="2.2"/>
<circle cx="540.2" cy="508.3" r="2.2"/>
<circle cx="542.5" cy="503.4" r="2.2"/>
<circle cx="544.7" cy="506.0" r="2.2"/>
<circle cx="547.0" cy="518.2" r="2.2"/>
<circle cx="549.2" cy="507.5" r="2.2"/>
<circle cx="551.5" cy="505.8" r="2.2"/>
<circle cx="553.7" cy="496.5" r="2.2"/>
<circle cx="556.0" cy="502.9" r="2.2"/>
<circle cx="558.2" cy="512.9" r="2.2"/>
<circle cx="560.5" cy="505.0" r="2.2"/>
<circle cx="562.7" cy="517.9" r="2.2"/>
<circle cx="565.0" cy="501.7" r="2.2"/>
<circle cx="567.2" cy="504.2" r="2.2"/>
<circle cx="569.5" cy="525.0" r="2.2"/>
</g>
<text class="atitle" x="344.2" y="589.6" text-anchor="middle" font-size="19.3">Slope (%)</text>
<text class="atitle" transform="translate(70.6,300.3) rotate(-90)" text-anchor="middle" font-size="19.3">Speed m/s</text>
<rect x="459.5" y="96" width="133.4" height="140.8" fill="#efefef" opacity="0.88"/>
<circle cx="467.0" cy="107.0" r="3.6" fill="#0a0a0a"/>
<rect x="462.6" y="131.4" width="10.6" height="3.8" fill="#f2d1c0"/>
<rect x="462.6" y="155.6" width="10.6" height="3.8" fill="#bfded2"/>
<g class="leg" font-size="15" font-weight="bold" fill="#0d0d0d">
<text x="480.4" y="111.6" textLength="100.4" lengthAdjust="spacingAndGlyphs">Subject Speed</text>
<text x="480.4" y="138.3" textLength="43" lengthAdjust="spacingAndGlyphs">Tobler</text>
<text x="480.4" y="162.6" textLength="62.8" lengthAdjust="spacingAndGlyphs">Naismith</text>
</g>
</svg>
<div class="cite">Ian J. Irmischer &amp;<br>Keith C. Clarke<br>(2018) Measuring and<br>modeling the speed<br>of human navigation,<br><i>Cartography and</i><br><i>Geographic</i><br><i>Information Science</i>,<br>45:2, 177-186, DOI:<br>10.1080/15230406.20<br>17.1292150</div>
<div class="conv">km/hr = m/s * 3.6</div>
<svg class="wm" width="60" height="50" viewBox="800 650 60 50">
<defs><filter id="ds" x="-20%" y="-20%" width="150%" height="150%"><feDropShadow dx="0.7" dy="0.7" stdDeviation="0.28" flood-color="#333" flood-opacity="0.95"/></filter></defs>
<g fill="#fff" stroke="#b9b9b9" stroke-width="0.8" filter="url(#ds)">
<path d="M823.5 663.8 C816.4 663.8 810.9 668.4 810.9 674 C810.9 677.2 812.7 680 815.5 681.9 L814.4 685.9 L818.6 683.6 C820.1 684.1 821.8 684.3 823.5 684.3 C830.6 684.3 836.1 679.7 836.1 674 C836.1 668.4 830.6 663.8 823.5 663.8 Z"/>
<path d="M837.3 669.2 C830.4 669.2 824.9 674 824.9 679.9 C824.9 685.8 830.4 690.6 837.3 690.6 C838.9 690.6 840.4 690.4 841.8 689.9 L846 692.3 L845 688.4 C847.9 686.4 849.7 683.4 849.7 679.9 C849.7 674 844.2 669.2 837.3 669.2 Z"/>
</g>
<g fill="#fff" stroke="#8a8a8a" stroke-width="0.6"><circle cx="819.6" cy="666.6" r="1.2"/><circle cx="830.4" cy="666.6" r="1.2"/><circle cx="833.2" cy="676.4" r="1.1"/><circle cx="842.2" cy="676" r="1.1"/></g>
</svg>
<div class="wmtext">慧天地</div>
</body>
</html>
